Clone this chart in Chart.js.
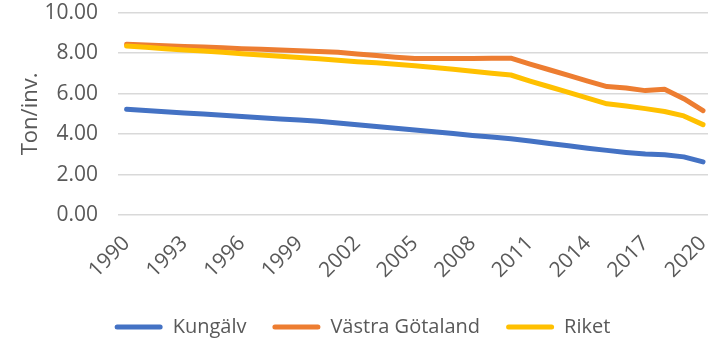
<!DOCTYPE html>
<html>
<head>
<meta charset="utf-8">
<script src="https://cdn.jsdelivr.net/npm/chart.js@4/dist/chart.umd.min.js"></script>
<style>
  html, body { margin: 0; padding: 0; background: #fff; }
  .chart-box { width: 708px; height: 338px; position: relative; }
</style>
</head>
<body>
<div class="chart-box">
  <canvas id="utslapp-chart"></canvas>
</div>
<script>
// utsläpp per invånare (ton), 1990-2020
var years = [1990, 1991, 1992, 1993, 1994, 1995, 1996, 1997, 1998, 1999,
             2000, 2001, 2002, 2003, 2004, 2005, 2006, 2007, 2008, 2009,
             2010, 2011, 2012, 2013, 2014, 2015, 2016, 2017, 2018, 2019, 2020];
var tickYears = [1990, 1993, 1996, 1999, 2002, 2005, 2008, 2011, 2014, 2017, 2020];

var kungalv = [5.23, 5.17, 5.11, 5.05, 4.99, 4.93, 4.87, 4.81, 4.75, 4.70,
               4.64, 4.55, 4.46, 4.38, 4.29, 4.21, 4.12, 4.03, 3.94, 3.86,
               3.77, 3.66, 3.54, 3.43, 3.31, 3.20, 3.10, 3.02, 2.98, 2.88, 2.63];
var vastraGotaland = [8.44, 8.40, 8.37, 8.33, 8.30, 8.26, 8.22, 8.19, 8.15, 8.12,
                      8.08, 8.04, 7.96, 7.88, 7.80, 7.73, 7.73, 7.74, 7.74, 7.75,
                      7.75, 7.46, 7.18, 6.90, 6.62, 6.35, 6.28, 6.15, 6.22, 5.75, 5.16];
var riket = [8.35, 8.29, 8.22, 8.16, 8.10, 8.04, 7.97, 7.91, 7.85, 7.78,
             7.72, 7.65, 7.58, 7.52, 7.45, 7.38, 7.29, 7.20, 7.10, 7.01,
             6.92, 6.62, 6.34, 6.06, 5.78, 5.50, 5.39, 5.26, 5.12, 4.90, 4.47];

var yTicks = [0, 2, 4, 6, 8, 10];

function toPoints(values) {
  return years.map(function (yr, i) { return { x: yr, y: values[i] }; });
}

function lineSet(label, values, color, order) {
  return {
    label: label,
    data: toPoints(values),
    borderColor: color,
    backgroundColor: color,
    borderWidth: 5,
    borderCapStyle: 'round',
    borderJoinStyle: 'round',
    pointRadius: 0,
    tension: 0,
    order: order
  };
}

Chart.defaults.font.family = "'Open Sans', sans-serif";
Chart.defaults.color = '#595959';

var ctx = document.getElementById('utslapp-chart').getContext('2d');
var chart = new Chart(ctx, {
  type: 'line',
  data: {
    datasets: [
      lineSet('Kungälv', kungalv, '#4472C4', 2),
      lineSet('Västra Götaland', vastraGotaland, '#ED7D31', 1),
      lineSet('Riket', riket, '#FFC000', 0)
    ]
  },
  options: {
    responsive: true,
    maintainAspectRatio: false,
    animation: false,
    layout: { padding: { left: 17, top: 2, right: 0, bottom: -9 } },
    scales: {
      x: {
        type: 'linear',
        min: 1989.55,
        max: 2020.26,
        grid: { display: false },
        border: { display: false },
        afterBuildTicks: function (scale) {
          scale.ticks = tickYears.map(function (v) { return { value: v }; });
        },
        afterFit: function (scale) {
          scale.paddingLeft = 0;
          scale.paddingRight = 0;
        },
        ticks: {
          autoSkip: false,
          minRotation: 45,
          maxRotation: 45,
          padding: 8,
          font: { size: 21 },
          callback: function (v) { return String(v); }
        }
      },
      y: {
        min: 0,
        max: 10,
        afterBuildTicks: function (scale) {
          scale.ticks = yTicks.map(function (v) { return { value: v }; });
        },
        // invisible tick marks keep the gap between labels and grid
        grid: { color: '#d9d9d9', lineWidth: 1.5, drawTicks: true, tickLength: 20, tickColor: 'rgba(0,0,0,0)' },
        border: { display: false },
        ticks: {
          padding: 0,
          font: { size: 21 },
          callback: function (v) { return v.toFixed(2); }
        },
        title: {
          display: true,
          text: 'Ton/inv.',
          font: { size: 22 },
          padding: { top: 1, bottom: 0 }
        }
      }
    },
    plugins: {
      tooltip: { enabled: false },
      legend: {
        position: 'bottom',
        labels: {
          boxWidth: 48,
          boxHeight: 5,
          padding: 26,
          font: { size: 20 },
          color: '#595959',
          sort: function (a, b) { return a.datasetIndex - b.datasetIndex; },
          generateLabels: function (c) {
            var items = Chart.defaults.plugins.legend.labels.generateLabels(c);
            items.forEach(function (it) {
              it.lineWidth = 0;
              it.borderRadius = 2.5;
            });
            return items;
          }
        }
      }
    }
  }
});
</script>
</body>
</html>
